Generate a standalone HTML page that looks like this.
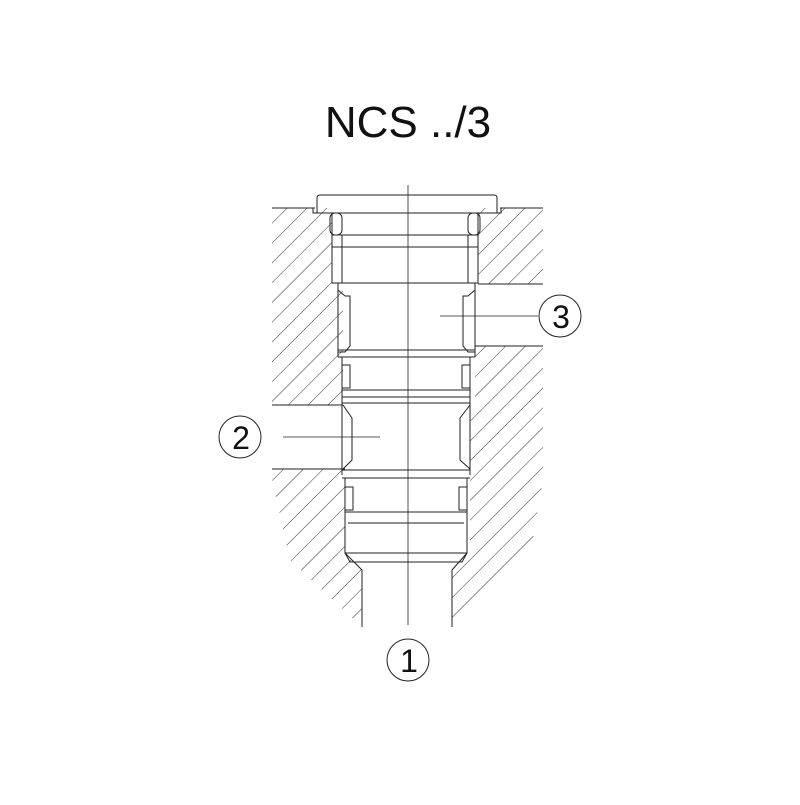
<!DOCTYPE html>
<html><head><style>html,body{margin:0;padding:0;background:#fff}</style></head><body>
<svg width="800" height="800" viewBox="0 0 800 800" xmlns="http://www.w3.org/2000/svg">
<defs>
<pattern id="h" patternUnits="userSpaceOnUse" width="14" height="14" patternTransform="rotate(45)">
<line x1="0" y1="0" x2="0" y2="14" stroke="#333" stroke-width="1"/>
</pattern>
<clipPath id="cl"><polygon points="272,208 332,208 332,283 343,283 343,405 272,405 272,469 345,469 345,553 362,570 362,627 290,560 272,480"/></clipPath>
<clipPath id="cr"><polygon points="543,208 478,208 478,284 543,284 543,346 475,346 475,405 470,405 470,553 452,570 452,627 530,555 543,480"/></clipPath>
</defs>
<rect x="0" y="0" width="800" height="800" fill="url(#h)" clip-path="url(#cl)"/>
<rect x="0" y="0" width="800" height="800" fill="url(#h)" clip-path="url(#cr)"/>
<g fill="none" stroke="#222" stroke-width="1">
<line x1="272" y1="208" x2="315" y2="208"/><line x1="500" y1="208" x2="543" y2="208"/>
<line x1="272" y1="405" x2="343" y2="405"/><line x1="272" y1="469" x2="345" y2="469"/>
<line x1="478" y1="284" x2="543" y2="284"/><line x1="475" y1="346" x2="543" y2="346"/>
<path d="M317,213 L317,198 Q317,195 320,195 L494,195 Q497,195 497,198 L497,213 Z"/>
<path d="M313,208 L313,213 L501,213 L501,208"/>
<rect x="330" y="213" width="12" height="22" rx="5"/><rect x="468" y="213" width="12" height="22" rx="5"/>
<path d="M332,235 L342,235 L342,283 M332,247 L478,247 M332,235 L478,235 M468,235 L468,283"/>
<path d="M332,213 L332,283 L478,283 L478,213"/>
<path d="M338,290 L345,296 L350,296 L350,346 L345,352 L338,352 M475,290 L468,296 L463,296 L463,346 L468,352 L475,352"/>
<line x1="338" y1="283" x2="338" y2="357"/><line x1="475" y1="283" x2="475" y2="357"/>
<line x1="338" y1="350" x2="475" y2="350"/><line x1="338" y1="357" x2="475" y2="357"/>
<rect x="342" y="357" width="128" height="33"/>
<rect x="342" y="365" width="8" height="23"/><rect x="462" y="365" width="8" height="23"/>
<line x1="342" y1="397" x2="470" y2="397"/>
<line x1="342" y1="390" x2="342" y2="475"/><line x1="470" y1="390" x2="470" y2="475"/>
<line x1="342" y1="403" x2="470" y2="403"/>
<path d="M343,405 L352,418 L352,460 L343,469 M470,405 L460,418 L460,460 L470,469"/>
<line x1="342" y1="470" x2="470" y2="470"/><line x1="342" y1="478" x2="470" y2="478"/>
<rect x="345" y="478" width="122" height="75"/>
<rect x="345" y="487" width="8" height="23"/><rect x="459" y="487" width="8" height="23"/>
<line x1="345" y1="512" x2="467" y2="512"/><line x1="348" y1="523" x2="464" y2="523"/>
<path d="M345,553 L350,562 L462,562 L467,553"/>
<path d="M345,553 L362,570 L362,627 M467,553 L452,570 L452,627"/>
<line x1="408" y1="185" x2="408" y2="625" stroke-width="0.8"/>
<line x1="440" y1="316" x2="538" y2="316" stroke-width="0.8"/>
<line x1="283" y1="437" x2="380" y2="437" stroke-width="0.8"/>
<circle cx="560" cy="316" r="21"/><circle cx="240" cy="437" r="21"/><circle cx="408" cy="660" r="21"/>
</g>
<g font-family="Liberation Sans, sans-serif" fill="#111" text-anchor="middle">
<text x="408" y="137" font-size="44">NCS ../3</text>
<text x="561" y="328" font-size="32">3</text>
<text x="241" y="449" font-size="32">2</text>
<text x="409" y="672" font-size="32">1</text>
</g>
</svg>
</body></html>
